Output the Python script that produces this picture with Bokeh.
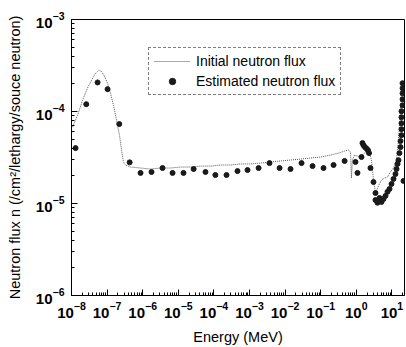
from bokeh.plotting import figure
from bokeh.models import FixedTicker, Legend, LegendItem, ColumnDataSource
from bokeh.embed import file_html
from bokeh.resources import INLINE

# Initial neutron flux (line)
init_energy = [1.07e-8, 1.48e-8, 2.04e-8, 2.8e-8, 3.65e-8, 4.7e-8, 5.7e-8, 7.0e-8, 8.4e-8,
               1.03e-7, 1.25e-7, 1.51e-7, 1.84e-7, 2.23e-7, 2.54e-7, 2.89e-7, 3.29e-7,
               4.54e-7, 8.67e-7, 1.66e-6, 3.16e-6, 6.0e-6, 1.15e-5, 2.2e-5, 4.2e-5, 8.0e-5,
               1.53e-4, 2.9e-4, 5.6e-4, 1.07e-3, 2.04e-3, 3.9e-3, 7.4e-3, 1.42e-2, 2.71e-2,
               5.2e-2, 9.9e-2, 0.188, 0.316, 0.467, 0.60, 0.69, 0.73, 0.78, 0.89, 1.08, 1.31,
               1.70, 2.2, 2.67, 3.04, 3.46, 4.2, 5.1, 6.2, 7.5, 9.1, 11.1, 13.5, 15.3, 17.5, 18.6]
init_flux = [6.76e-5, 9.1e-5, 1.32e-4, 1.79e-4, 2.18e-4, 2.6e-4, 2.8e-4, 2.73e-4, 2.41e-4,
             2.03e-4, 1.58e-4, 1.17e-4, 8.05e-5, 5.53e-5, 3.81e-5, 2.82e-5, 2.62e-5,
             2.49e-5, 2.43e-5, 2.37e-5, 2.43e-5, 2.43e-5, 2.49e-5, 2.49e-5, 2.55e-5, 2.55e-5,
             2.62e-5, 2.62e-5, 2.69e-5, 2.69e-5, 2.75e-5, 2.83e-5, 2.9e-5, 2.97e-5, 3.04e-5,
             3.12e-5, 3.2e-5, 3.36e-5, 3.53e-5, 3.71e-5, 3.81e-5, 3.62e-5, 1.89e-5, 2.96e-5,
             3.36e-5, 3.28e-5, 3.2e-5, 3.53e-5, 3.81e-5, 2.96e-5, 1.80e-5, 1.30e-5, 1.55e-5,
             1.80e-5, 1.89e-5, 1.94e-5, 2.2e-5, 2.43e-5, 2.96e-5, 4.89e-5, 1.03e-4, 1.93e-4]

# Estimated neutron flux (points)
est_energy = [1.3e-8, 2.6e-8, 5.4e-8, 1.03e-7, 2.2e-7, 4.3e-7, 8.7e-7, 1.77e-6, 3.6e-6,
              6.9e-6, 1.4e-5, 2.7e-5, 5.8e-5, 1.1e-4, 2.26e-4, 4.6e-4, 8.8e-4, 1.8e-3,
              3.65e-3, 7.0e-3, 1.42e-2, 2.9e-2, 5.9e-2, 0.12, 0.23, 0.47, 0.95, 1.08, 1.4,
              1.49, 1.59, 1.75, 1.94, 2.13, 2.28, 2.5, 3.04, 3.46, 3.46,
              3.94, 4.49, 5.11, 5.81, 6.61, 7.52, 8.56, 9.75, 11.1, 12.6, 13.5, 14.4,
              15.3, 16.3, 17.5, 17.5, 18.6, 18.6, 18.6, 18.6, 18.6, 19.9, 19.9, 19.9, 19.9, 19.9,
              21.2]
est_flux = [4.0e-5, 1.2e-4, 2.07e-4, 1.75e-4, 7.3e-5, 2.8e-5, 2.15e-5, 2.2e-5, 2.43e-5,
            2.15e-5, 2.15e-5, 2.37e-5, 2.2e-5, 2.04e-5, 2.04e-5, 2.25e-5, 2.31e-5, 2.43e-5,
            2.75e-5, 2.43e-5, 2.37e-5, 2.75e-5, 2.55e-5, 2.43e-5, 2.62e-5, 2.9e-5, 2.83e-5, 2.15e-5, 3.2e-5,
            4.54e-5, 4.3e-5, 4.1e-5, 3.95e-5, 3.8e-5, 3.53e-5, 2.43e-5, 1.71e-5, 1.30e-5, 1.09e-5,
            1.02e-5, 1.15e-5, 1.04e-5, 1.12e-5, 1.21e-5, 1.34e-5, 1.44e-5, 1.63e-5, 1.85e-5, 2.09e-5, 2.37e-5, 2.69e-5,
            2.96e-5, 3.53e-5, 4.10e-5, 4.77e-5, 5.53e-5, 6.43e-5, 7.46e-5, 8.67e-5, 1.007e-4, 1.17e-4, 1.36e-4, 1.58e-4, 1.79e-4, 2.03e-4,
            1.76e-5]

major_x = [1e-8, 1e-7, 1e-6, 1e-5, 1e-4, 1e-3, 1e-2, 1e-1, 1e0, 1e1]
major_y = [1e-6, 1e-5, 1e-4, 1e-3]

FONT = "Liberation Sans"

p = figure(width=406, height=347, x_axis_type="log", y_axis_type="log",
           x_range=(1e-8, 22.6), y_range=(1e-6, 1e-3),
           output_backend="svg", toolbar_location=None,
           min_border_left=71, min_border_right=2, min_border_top=19, min_border_bottom=51)

p.xgrid.visible = False
p.ygrid.visible = False
p.outline_line_color = "black"
p.outline_line_width = 1
p.background_fill_color = "white"
p.border_fill_color = "white"

minor_x = [m * d for d in major_x[:-1] for m in range(2, 10)] + [20.0]
minor_y = [m * d for d in major_y[:-1] for m in range(2, 10)]
p.xaxis.ticker = FixedTicker(ticks=major_x, minor_ticks=minor_x)
p.yaxis.ticker = FixedTicker(ticks=major_y, minor_ticks=minor_y)

for ax in (p.xaxis[0], p.yaxis[0]):
    ax.major_tick_in = 6
    ax.major_tick_out = 0
    ax.minor_tick_in = 3
    ax.minor_tick_out = 0
    ax.axis_line_color = "black"
    ax.major_label_text_font = FONT
    ax.major_label_text_font_style = "bold"
    ax.major_label_text_font_size = "15px"
    ax.major_label_text_color = "black"
    ax.axis_label_text_font = FONT
    ax.axis_label_text_font_style = "normal"
    ax.axis_label_text_font_size = "14.5px"
    ax.axis_label_text_color = "black"

p.xaxis.axis_label = "Energy (MeV)"
p.yaxis.axis_label = "Neutron flux n (/cm²/lethargy/souce neutron)"
p.xaxis.axis_label_standoff = 8
p.yaxis.axis_label_standoff = 10
p.xaxis.major_label_standoff = 6
p.yaxis.major_label_standoff = 7

line_src = ColumnDataSource(dict(x=init_energy, y=init_flux))
pt_src = ColumnDataSource(dict(x=est_energy, y=est_flux))

r_line = p.line("x", "y", source=line_src, line_color="#555555", line_width=1, line_dash="1 1")
r_pts = p.scatter("x", "y", source=pt_src, size=5, fill_color="#1a1a1a", line_color="#1a1a1a")

legend = Legend(items=[LegendItem(label="Initial neutron flux", renderers=[r_line]),
                       LegendItem(label="Estimated neutron flux", renderers=[r_pts])],
                location=(77, 200))
legend.label_text_font = FONT
legend.label_text_font_size = "14px"
legend.label_text_color = "black"
legend.glyph_width = 36
legend.glyph_height = 16
legend.label_standoff = 6
legend.padding = 5
legend.spacing = 4
legend.margin = 0
legend.border_line_color = "black"
legend.border_line_dash = "1 1"
legend.border_line_width = 1
legend.background_fill_alpha = 1
p.add_layout(legend)

open("out.html", "w").write(file_html(p, INLINE))
